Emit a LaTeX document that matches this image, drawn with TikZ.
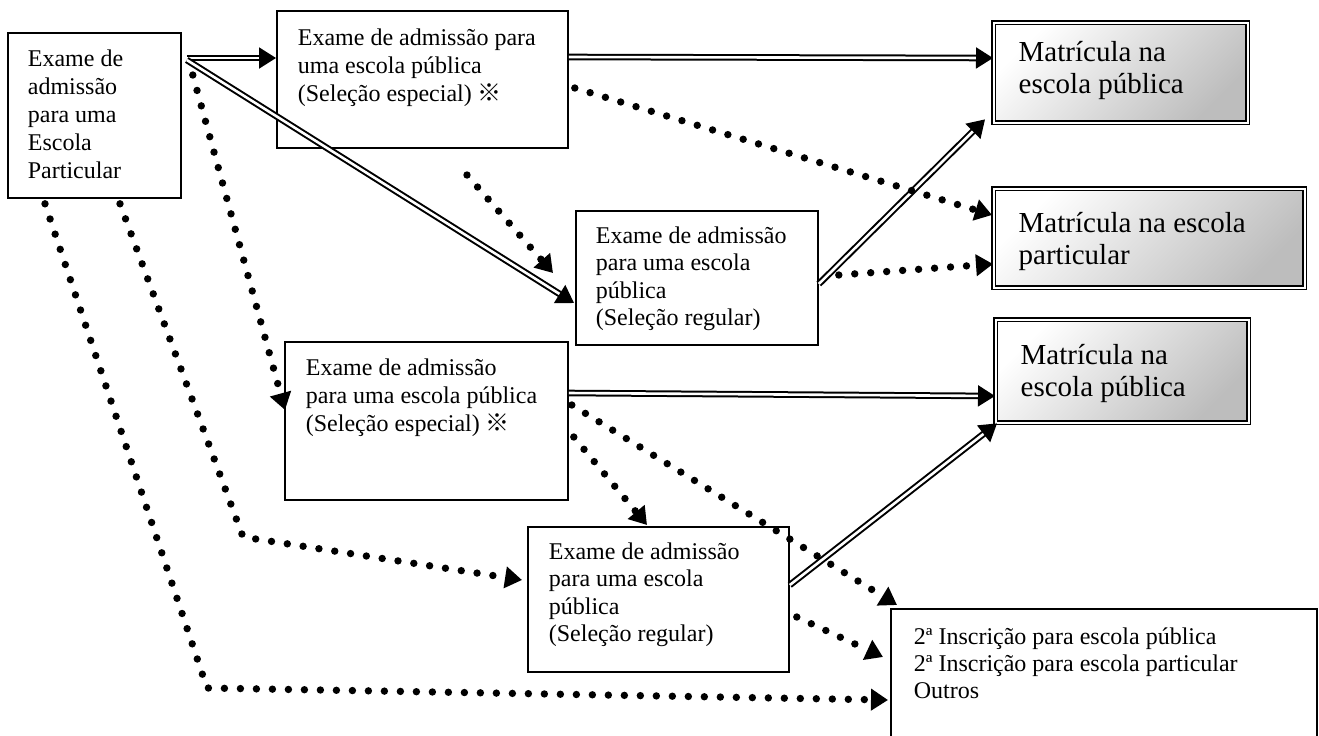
\documentclass[tikz,border=0pt]{standalone}
\usepackage{fontspec}
\setmainfont{Liberation Serif}
\newfontfamily\cjk{Noto Sans CJK JP}
\usetikzlibrary{arrows.meta}
\newcommand{\boxtext}[3]{\parbox[t][#2][t]{#1}{#3}}

\tikzset{
	exbox/.style={draw, line width=0.9pt, anchor=north west, inner xsep=10pt, font=\fontsize{12}{14}\selectfont},
	endbox/.style={draw, double, double distance=1.1pt, line width=0.7pt, anchor=north west, inner xsep=12.5pt,
		top color=white, bottom color=black!26, shading angle=45, font=\fontsize{14.5}{16}\selectfont},
	bigtip/.tip={Triangle[length=8.5pt, width=10.5pt]},
	dblarrow/.style={double, double distance=1.3pt, line width=1pt, -bigtip},
	dotarrow/.style={line width=3.7pt, line cap=round, dash pattern=on 0pt off 8pt, -bigtip}
}

\begin{document}
\begin{tikzpicture}[x=0.5pt, y=-0.5pt]
			%%%%% START %%%%%
			\useasboundingbox (0,0) rectangle (1319,735);
			\clip (0,0) rectangle (1319,735);
			
			\node[exbox, inner ysep=8.3pt] (part) at (7,32) {\boxtext{66.5pt}{65.9pt}{Exame de\\admissão\\para uma\\Escola\\Particular}};
			\node[exbox, inner xsep=10.5pt, inner ysep=8.8pt] (espA) at (276,10) {\boxtext{124.5pt}{50.9pt}{Exame de admissão para\\uma escola pública\\(Seleção especial) {\cjk ※}}};
			\node[exbox, inner ysep=7.8pt, font=\fontsize{12}{13.75}\selectfont] (regA) at (575,210) {\boxtext{101pt}{51.4pt}{Exame de admissão\\para uma escola\\pública\\(Seleção regular)}};
			\node[exbox, inner xsep=10.5pt, inner ysep=8.3pt] (espB) at (284,341) {\boxtext{120.5pt}{62.4pt}{Exame de admissão\\para uma escola pública\\(Seleção especial) {\cjk ※}}};
			\node[exbox, inner xsep=10.5pt, inner ysep=7.8pt, font=\fontsize{12}{13.75}\selectfont] (regB) at (527,526) {\boxtext{109.5pt}{56.9pt}{Exame de admissão\\para uma escola\\pública\\(Seleção regular)}};
			
			\node[endbox, inner ysep=9.1pt] (pubA) at (993,22) {\boxtext{102pt}{31.8pt}{Matrícula na\\escola pública}};
			\node[endbox, inner ysep=12pt] (priv) at (993,188) {\boxtext{130.5pt}{25.5pt}{Matrícula na escola\\particular}};
			\node[endbox, inner ysep=12.1pt] (pubB) at (995,319) {\boxtext{101.5pt}{27.3pt}{Matrícula na\\escola pública}};
			
			\node[exbox, inner xsep=11.5pt, inner ysep=9.3pt, font=\fontsize{12}{13.5}\selectfont] (outros) at (890,608) {\boxtext{190pt}{66.4pt}{2ª Inscrição para escola pública\\2ª Inscrição para escola particular\\Outros}};
			
			% double arrows
			\draw[dblarrow] ([shift={(5,26)}]part.north east) -- ([shift={(0,48)}]espA.north west);
			\draw[dblarrow] ([shift={(5,28)}]part.north east) -- ([shift={(-1,93)}]regA.north west);
			\draw[dblarrow] ([shift={(0,47)}]espA.north east) -- ([shift={(0,36)}]pubA.north west);
			\draw[dblarrow] ([shift={(0,74)}]regA.north east) -- ([shift={(-8,-4)}]pubA.south west);
			\draw[dblarrow] ([shift={(0,52)}]espB.north east) -- ([shift={(0,77)}]pubB.north west);
			\draw[dblarrow] ([shift={(0,59)}]regB.north east) -- ([shift={(2,0)}]pubB.south west);
			
			% dotted arrows
			\coordinate (loose) at (467,175);
			\coordinate (bendE) at (243,537);
			\coordinate (bendI) at (207,688);
			\draw[dotarrow] ([shift={(6,78)}]espA.north east) -- ([shift={(-1,27)}]priv.north west);
			\draw[dotarrow] ([shift={(20,65)}]regA.north east) -- ([shift={(0,76)}]priv.north west);
			\draw[dotarrow] (loose) -- ([shift={(-22,63)}]regA.north west);
			\draw[dotarrow] ([shift={(11,43)}]part.north east) -- ([shift={(1,69)}]espB.north west);
			\draw[dotarrow] ([shift={(113,5)}]part.south west) -- (bendE) -- ([shift={(-5,54)}]regB.north west);
			\draw[dotarrow] ([shift={(38,5)}]part.south west) -- (bendI) -- ([shift={(-2,92)}]outros.north west);
			\draw[dotarrow] ([shift={(3,64)}]espB.north east) -- ([shift={(7,-3)}]outros.north west);
			\draw[dotarrow] ([shift={(5,96)}]espB.north east) -- ([shift={(120,-1)}]regB.north west);
			\draw[dotarrow] ([shift={(7,91)}]regB.north east) -- ([shift={(-7,49)}]outros.north west);
			
			%%%%% END %%%%%
\end{tikzpicture}
\end{document}
